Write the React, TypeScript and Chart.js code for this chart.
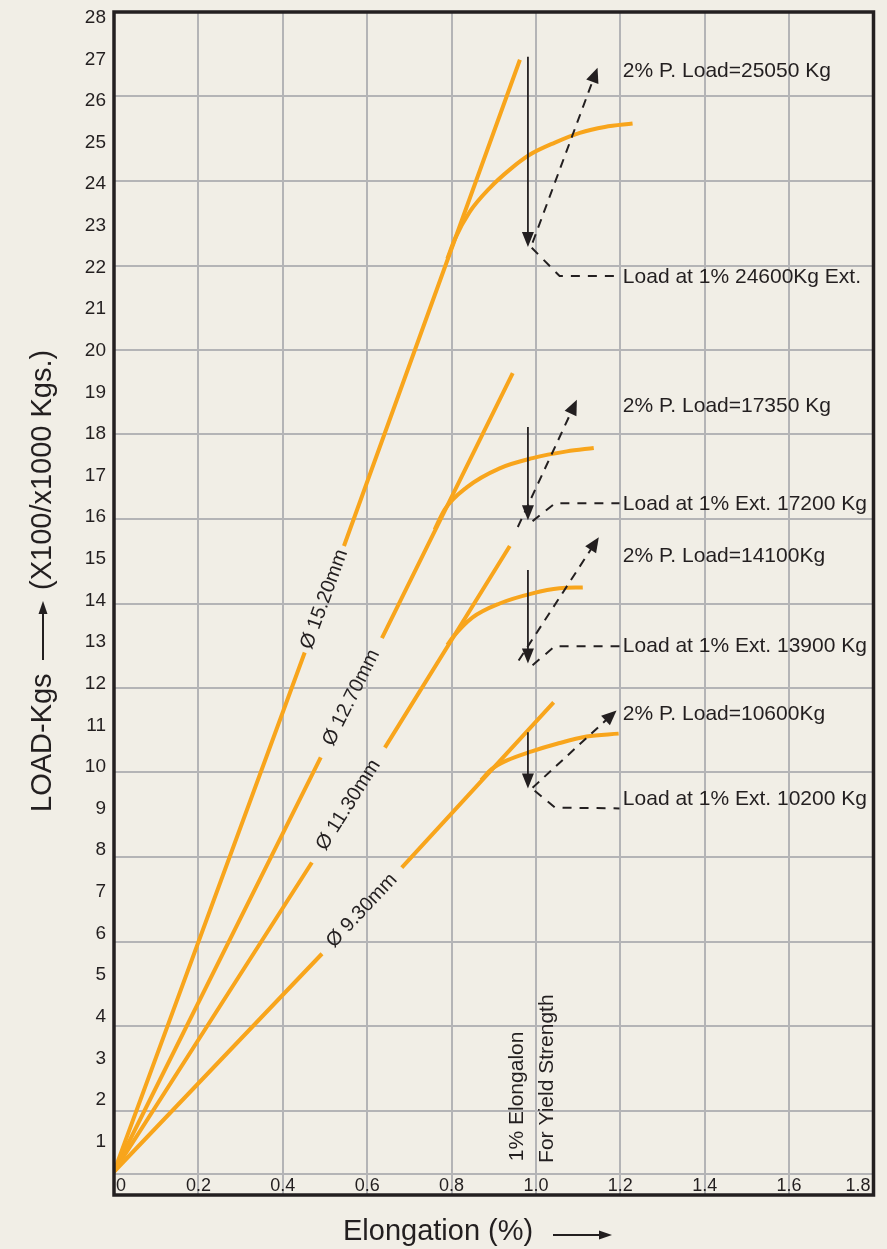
import React, { useEffect, useRef } from 'react';
import { Chart, registerables } from 'chart.js';

Chart.register(...registerables);

const BG = '#F1EEE6';
const ORANGE = '#F8A51C';
const INK = '#231F20';
const GRID = '#B4B4B6';
const FONT = '"Liberation Sans", Arial, Helvetica, sans-serif';

// axis ticks
const xTickValues = [0, 0.2, 0.4, 0.6, 0.8, 1.0, 1.2, 1.4, 1.6, 1.8];
const xTickLabels = ['0', '0.2', '0.4', '0.6', '0.8', '1.0', '1.2', '1.4', '1.6', '1.8'];
// the printed load labels run on a slightly tighter ladder than the grid
const yLabelMin = -0.285;
const yLabelMax = 28.137;

// straight elastic lines (null = gap where the label sits)
const line1520X = [0, 0.452, 0.5, 0.545, 0.962];
const line1520Y = [0.55, 12.84, null, 15.36, 26.87];
const line1270X = [0, 0.49, 0.56, 0.635, 0.945];
const line1270Y = [0.55, 10.36, null, 13.18, 19.45];
const line1130X = [0, 0.469, 0.55, 0.642, 0.938];
const line1130Y = [0.55, 7.87, null, 10.59, 15.36];
const line930X = [0, 0.493, 0.59, 0.682, 1.042];
const line930Y = [0.55, 5.71, null, 7.75, 11.66];

// yield curves
const curve1520X = [0.79, 0.808, 0.843, 0.891, 0.938, 0.985, 1.045, 1.104, 1.163, 1.229];
const curve1520Y = [22.16, 22.63, 23.27, 23.84, 24.27, 24.62, 24.91, 25.14, 25.28, 25.36];
const curve1270X = [0.76, 0.784, 0.836, 0.914, 0.992, 1.073, 1.137];
const curve1270Y = [15.75, 16.23, 16.75, 17.2, 17.44, 17.6, 17.68];
const curve1130X = [0.79, 0.803, 0.85, 0.914, 0.992, 1.056, 1.111];
const curve1130Y = [13.02, 13.2, 13.67, 14.0, 14.24, 14.36, 14.38];
const curve930X = [0.87, 0.895, 0.93, 0.99, 1.05, 1.12, 1.196];
const curve930Y = [9.82, 10.08, 10.28, 10.5, 10.68, 10.85, 10.92];

// base line drawn just above the x-axis
const baseX = [0, 1.8];
const baseY = [0.5, 0.5];

// diameter labels
const diaTexts = ['\u00D8 15.20mm', '\u00D8 12.70mm', '\u00D8 11.30mm', '\u00D8 9.30mm'];
const diaX = [0.4985, 0.5625, 0.5555, 0.5875];
const diaY = [14.1, 11.77, 9.23, 6.73];

// solid downward arrows at 1% elongation
const solidArrowX = [0.981, 0.981, 0.981, 0.981];
const solidArrowFrom = [26.94, 18.18, 14.79, 10.95];
const solidArrowTo = [22.44, 15.97, 12.58, 9.62];

// dashed arrows (offset line)
const dashFromX = [0.992, 0.957, 0.959, 0.992];
const dashFromY = [22.54, 15.81, 12.65, 9.64];
const dashToX = [1.146, 1.097, 1.149, 1.191];
const dashToY = [26.68, 18.82, 15.57, 11.47];

// dashed leaders to the "Load at 1%" notes
const leaderX = [
  [0.99, 1.056, 1.198],
  [0.992, 1.045, 1.198],
  [0.992, 1.045, 1.198],
  [0.997, 1.045, 1.198],
];
const leaderY = [
  [22.42, 21.75, 21.75],
  [15.95, 16.37, 16.37],
  [12.54, 12.99, 12.99],
  [9.57, 9.17, 9.15],
];

// notes
const noteTexts = [
  '2% P. Load=25050 Kg',
  'Load at 1% 24600Kg Ext.',
  '2% P. Load=17350 Kg',
  'Load at 1% Ext. 17200 Kg',
  '2% P. Load=14100Kg',
  'Load at 1% Ext. 13900 Kg',
  '2% P. Load=10600Kg',
  'Load at 1% Ext. 10200 Kg',
];
const noteX = 1.206;
const noteY = [26.59, 21.73, 18.66, 16.34, 15.11, 13.0, 11.39, 9.36];

// vertical notes near 1% line
const vertTexts = ['1% Elongalon', 'For Yield Strength'];
const vertX = [0.955, 1.026];
const vertY = [0.8, 0.76];

const xTitle = 'Elongation (%)';
const yTitleA = 'LOAD-Kgs';
const yTitleB = '(X100/x1000 Kgs.)';

const zip = (xs: number[], ys: (number | null)[]) => xs.map((x, i) => ({ x, y: ys[i] }));

const orangeLine = (label: string, xs: number[], ys: (number | null)[], curve = false) => ({
  label,
  data: zip(xs, ys),
  showLine: true,
  borderColor: ORANGE,
  backgroundColor: ORANGE,
  borderWidth: 4,
  pointRadius: 0,
  spanGaps: false,
  cubicInterpolationMode: curve ? 'monotone' : 'default',
  borderCapStyle: 'butt',
});

function arrowHead(ctx: CanvasRenderingContext2D, fx: number, fy: number, tx: number, ty: number, len: number, half: number) {
  const a = Math.atan2(ty - fy, tx - fx);
  ctx.beginPath();
  ctx.moveTo(tx, ty);
  ctx.lineTo(tx - len * Math.cos(a) + half * Math.sin(a), ty - len * Math.sin(a) - half * Math.cos(a));
  ctx.lineTo(tx - len * Math.cos(a) - half * Math.sin(a), ty - len * Math.sin(a) + half * Math.cos(a));
  ctx.closePath();
  ctx.fill();
}

const bgPlugin = {
  id: 'bg',
  beforeDraw(chart: any) {
    const ctx = chart.ctx;
    ctx.save();
    ctx.fillStyle = BG;
    ctx.fillRect(0, 0, chart.width, chart.height);
    ctx.restore();
  },
};

const notesPlugin = {
  id: 'notes',
  afterDatasetsDraw(chart: any) {
    const ctx: CanvasRenderingContext2D = chart.ctx;
    const sx = chart.scales.x;
    const sy = chart.scales.y;
    const X = (v: number) => sx.getPixelForValue(v);
    const Y = (v: number) => sy.getPixelForValue(v);
    ctx.save();
    ctx.strokeStyle = INK;
    ctx.fillStyle = INK;

    // solid arrows
    ctx.lineWidth = 1.8;
    ctx.setLineDash([]);
    solidArrowX.forEach((x, i) => {
      const px = X(x);
      const y0 = Y(solidArrowFrom[i]);
      const y1 = Y(solidArrowTo[i]);
      ctx.beginPath();
      ctx.moveTo(px, y0);
      ctx.lineTo(px, y1 - 10);
      ctx.stroke();
      arrowHead(ctx, px, y0, px, y1, 15, 6);
    });

    // dashed arrows
    ctx.lineWidth = 2;
    dashFromX.forEach((x, i) => {
      const fx = X(x), fy = Y(dashFromY[i]);
      const tx = X(dashToX[i]), ty = Y(dashToY[i]);
      const a = Math.atan2(ty - fy, tx - fx);
      ctx.setLineDash([9, 7]);
      ctx.beginPath();
      ctx.moveTo(fx, fy);
      ctx.lineTo(tx - 12 * Math.cos(a), ty - 12 * Math.sin(a));
      ctx.stroke();
      ctx.setLineDash([]);
      arrowHead(ctx, fx, fy, tx, ty, 15, 6.5);
    });

    // leaders
    ctx.setLineDash([9, 8]);
    leaderX.forEach((xs, i) => {
      ctx.beginPath();
      xs.forEach((x, j) => {
        const px = X(x), py = Y(leaderY[i][j]);
        if (j === 0) ctx.moveTo(px, py);
        else ctx.lineTo(px, py);
      });
      ctx.stroke();
    });
    ctx.setLineDash([]);

    // notes
    ctx.font = `21px ${FONT}`;
    ctx.textAlign = 'left';
    ctx.textBaseline = 'middle';
    noteTexts.forEach((t, i) => ctx.fillText(t, X(noteX), Y(noteY[i])));

    // vertical notes
    vertTexts.forEach((t, i) => {
      ctx.save();
      ctx.translate(X(vertX[i]), Y(vertY[i]));
      ctx.rotate(-Math.PI / 2);
      ctx.textAlign = 'left';
      ctx.textBaseline = 'middle';
      ctx.fillText(t, 0, 0);
      ctx.restore();
    });

    // diameter labels along the lines
    const lines = [
      [line1520X, line1520Y],
      [line1270X, line1270Y],
      [line1130X, line1130Y],
      [line930X, line930Y],
    ] as any[];
    ctx.font = `20px ${FONT}`;
    diaTexts.forEach((t, i) => {
      const xs = lines[i][0], ys = lines[i][1];
      const n = xs.length - 1;
      const ang = Math.atan2(Y(ys[n]) - Y(ys[0]), X(xs[n]) - X(xs[0]));
      ctx.save();
      ctx.translate(X(diaX[i]), Y(diaY[i]));
      ctx.rotate(ang);
      ctx.textAlign = 'center';
      ctx.textBaseline = 'middle';
      ctx.fillText(t, 0, 0);
      ctx.restore();
    });
    ctx.restore();
  },
  afterDraw(chart: any) {
    const ctx: CanvasRenderingContext2D = chart.ctx;
    const a = chart.chartArea;
    const sx = chart.scales.x;
    ctx.save();
    // x tick labels inside the frame
    ctx.fillStyle = INK;
    ctx.font = `18px ${FONT}`;
    ctx.textBaseline = 'middle';
    xTickValues.forEach((v, i) => {
      const px = sx.getPixelForValue(v);
      const ty = a.bottom - 9;
      if (i === 0) { ctx.textAlign = 'left'; ctx.fillText(xTickLabels[i], px + 2, ty); }
      else if (i === xTickValues.length - 1) { ctx.textAlign = 'right'; ctx.fillText(xTickLabels[i], px - 3, ty); }
      else { ctx.textAlign = 'center'; ctx.fillText(xTickLabels[i], px, ty); }
    });
    // frame
    ctx.strokeStyle = INK;
    ctx.lineWidth = 3.5;
    ctx.strokeRect(a.left, a.top, a.right - a.left, a.bottom - a.top);

    // x title with arrow
    ctx.font = `29px ${FONT}`;
    ctx.textAlign = 'left';
    ctx.textBaseline = 'middle';
    ctx.fillText(xTitle, 343, 1232);
    ctx.lineWidth = 2;
    ctx.beginPath();
    ctx.moveTo(553, 1235);
    ctx.lineTo(600, 1235);
    ctx.stroke();
    arrowHead(ctx, 553, 1235, 612, 1235, 13, 4.5);

    // y title with arrow
    ctx.save();
    ctx.translate(43, 812);
    ctx.rotate(-Math.PI / 2);
    ctx.fillText(yTitleA, 0, 0);
    ctx.beginPath();
    ctx.moveTo(152, 0);
    ctx.lineTo(200, 0);
    ctx.stroke();
    arrowHead(ctx, 152, 0, 211, 0, 13, 4.5);
    ctx.fillText(yTitleB, 222, 0);
    ctx.restore();
    ctx.restore();
  },
};

export default function App() {
  const ref = useRef<HTMLCanvasElement>(null);
  useEffect(() => {
    document.body.style.margin = '0';
    document.body.style.background = BG;
    const datasets: any[] = [
      {
        label: 'base',
        data: zip(baseX, baseY),
        showLine: true,
        borderColor: GRID,
        borderWidth: 2,
        pointRadius: 0,
      },
      orangeLine('15.20 line', line1520X, line1520Y),
      orangeLine('12.70 line', line1270X, line1270Y),
      orangeLine('11.30 line', line1130X, line1130Y),
      orangeLine('9.30 line', line930X, line930Y),
      orangeLine('15.20 curve', curve1520X, curve1520Y, true),
      orangeLine('12.70 curve', curve1270X, curve1270Y, true),
      orangeLine('11.30 curve', curve1130X, curve1130Y, true),
      orangeLine('9.30 curve', curve930X, curve930Y, true),
    ];
    const chart = new Chart(ref.current as HTMLCanvasElement, {
      type: 'scatter',
      data: { datasets },
      options: {
        animation: false,
        responsive: false,
        events: [],
        layout: { padding: { left: 0, top: 12, right: 13.5, bottom: 54 } },
        plugins: { legend: { display: false }, tooltip: { enabled: false } },
        scales: {
          x: {
            type: 'linear',
            min: 0,
            max: 1.8,
            afterBuildTicks: (s: any) => {
              s.ticks = xTickValues.map((v) => ({ value: v }));
            },
            ticks: { display: false },
            grid: { color: GRID, lineWidth: 2, drawTicks: false },
            border: { display: false },
            afterFit: (s: any) => {
              s.height = 0;
              s.paddingLeft = 0;
              s.paddingRight = 0;
            },
          },
          y: {
            type: 'linear',
            position: 'left',
            min: 0,
            max: 28,
            ticks: { stepSize: 1, display: false },
            grid: {
              color: (c: any) => (c.tick && c.tick.value % 2 === 0 ? GRID : 'rgba(0,0,0,0)'),
              lineWidth: 2,
              drawTicks: false,
            },
            border: { display: false },
            afterFit: (s: any) => {
              s.width = 0;
              s.paddingTop = 0;
              s.paddingBottom = 0;
            },
          },
          yLabels: {
            type: 'linear',
            position: 'left',
            min: yLabelMin,
            max: yLabelMax,
            afterBuildTicks: (s: any) => {
              const t = [];
              for (let v = 1; v <= 28; v++) t.push({ value: v });
              s.ticks = t;
            },
            ticks: {
              padding: 8,
              autoSkip: false,
              color: INK,
              font: { family: FONT, size: 19 },
              callback: (v: any) => String(v),
            },
            grid: { display: false, drawTicks: false },
            border: { display: false },
            afterFit: (s: any) => {
              s.width = 114;
              s.paddingTop = 0;
              s.paddingBottom = 0;
            },
          },
        },
      },
      plugins: [bgPlugin, notesPlugin],
    } as any);
    return () => chart.destroy();
  }, []);
  return <canvas ref={ref} width={887} height={1249} style={{ display: 'block' }} />;
}
